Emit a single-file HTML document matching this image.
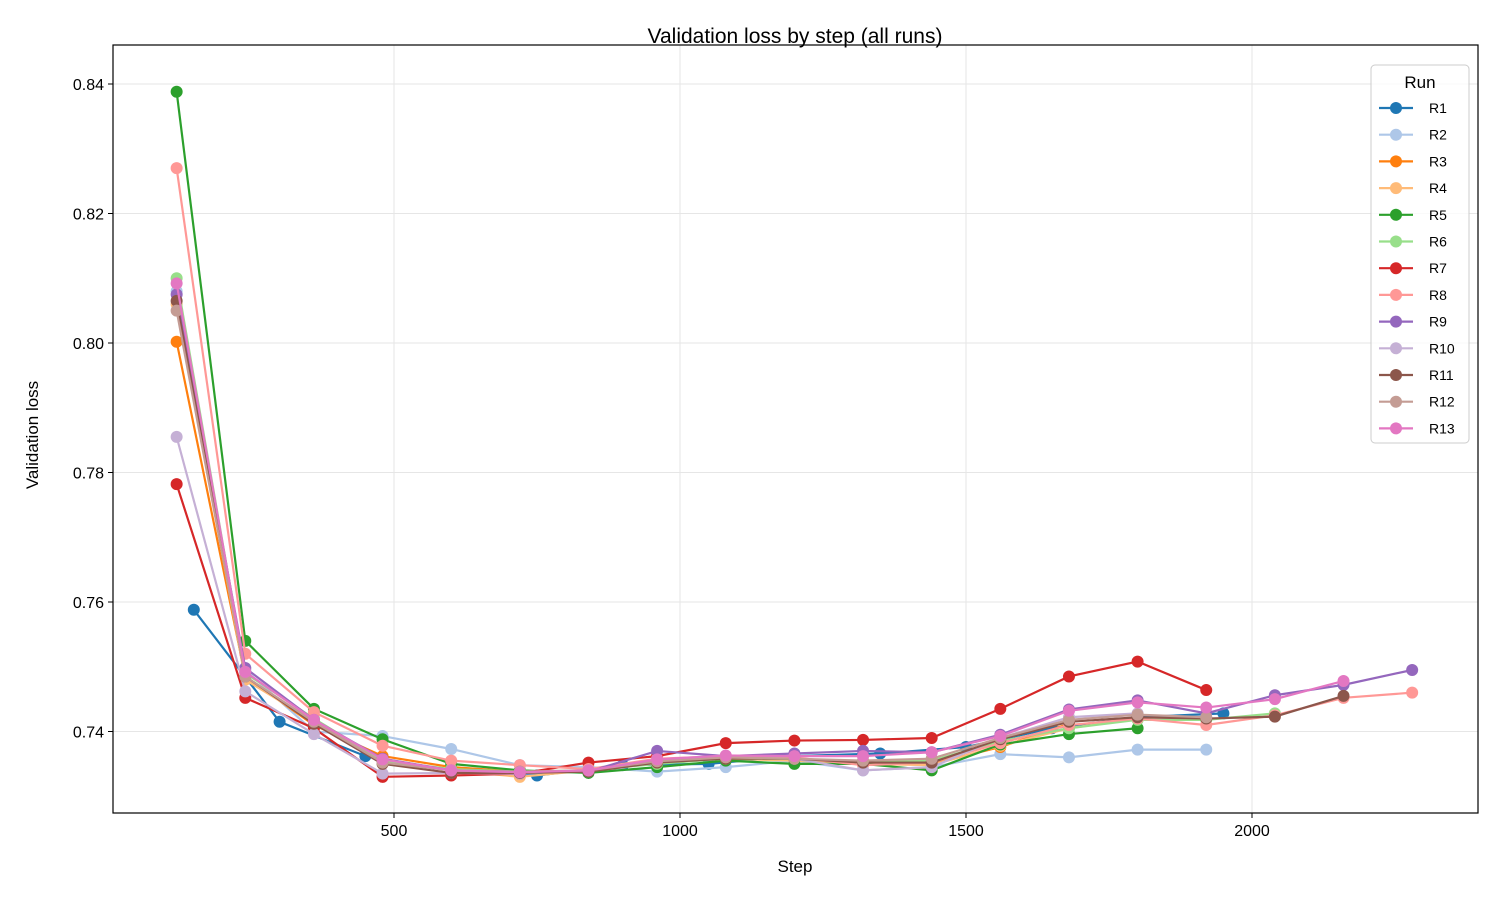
<!DOCTYPE html>
<html><head><meta charset="utf-8"><style>body{margin:0;background:#fff}svg{display:block;font-family:"Liberation Sans","DejaVu Sans",sans-serif}</style></head>
<body>
<svg id="chart" width="1500" height="900" viewBox="0 0 1500 900" xmlns="http://www.w3.org/2000/svg">
<rect width="1500" height="900" fill="#fff"/>
<text x="795" y="43" text-anchor="middle" font-size="21">Validation loss by step (all runs)</text>
<text x="795" y="872" text-anchor="middle" font-size="17">Step</text>
<text transform="translate(38,435) rotate(-90)" text-anchor="middle" font-size="17">Validation loss</text>
<g id="grid"></g><g id="series"></g><g id="axes"></g><g id="legend"></g>
</svg>
<script>
const runNames=["R1","R2","R3","R4","R5","R6","R7","R8","R9","R10","R11","R12","R13"];
const colors=["#1f77b4","#aec7e8","#ff7f0e","#ffbb78","#2ca02c","#98df8a","#d62728","#ff9896","#9467bd","#c5b0d5","#8c564b","#c49c94","#e377c2"];
const stepsR1=[150,300,450,600,750,900,1050,1200,1350,1500,1650,1800,1950];
const stepsStd=[120,240,360,480,600,720,840,960,1080,1200,1320,1440,1560,1680,1800,1920,2040,2160,2280];
const lossR1=[0.7588,0.7415,0.7362,0.7340,0.7332,0.7348,0.7350,0.7362,0.7366,0.7376,0.7405,0.7422,0.7428];
const lossR2=[0.8080,0.7495,0.7400,0.7393,0.7373,0.7348,0.7345,0.7338,0.7345,0.7355,0.7340,0.7345,0.7365,0.7360,0.7372,0.7372];
const lossR3=[0.8002,0.7485,0.7410,0.7362,0.7345,0.7338,0.7338,0.7352,0.7358,0.7358,0.7352,0.7350,0.7376,0.7412];
const lossR4=[0.8060,0.7480,0.7415,0.7355,0.7340,0.7330,0.7340,0.7352,0.7358,0.7355,0.7350,0.7348,0.7378,0.7405,0.7420];
const lossR5=[0.8388,0.7540,0.7435,0.7388,0.7350,0.7340,0.7336,0.7345,0.7355,0.7350,0.7350,0.7340,0.7380,0.7396,0.7405];
const lossR6=[0.8100,0.7490,0.7420,0.7355,0.7342,0.7338,0.7340,0.7350,0.7358,0.7358,0.7352,0.7355,0.7385,0.7405,0.7418,0.7418,0.7428];
const lossR7=[0.7782,0.7452,0.7405,0.7330,0.7332,0.7335,0.7352,0.7362,0.7382,0.7386,0.7387,0.7390,0.7435,0.7485,0.7508,0.7464];
const lossR8=[0.8270,0.7520,0.7430,0.7378,0.7355,0.7348,0.7342,0.7358,0.7362,0.7360,0.7348,0.7352,0.7382,0.7410,0.7420,0.7410,0.7425,0.7452,0.7460];
const lossR9=[0.8075,0.7498,0.7418,0.7358,0.7340,0.7338,0.7338,0.7370,0.7362,0.7366,0.7370,0.7368,0.7395,0.7434,0.7448,0.7428,0.7456,0.7472,0.7495];
const lossR10=[0.7855,0.7462,0.7396,0.7335,0.7336,0.7335,0.7340,0.7355,0.7360,0.7358,0.7340,0.7345,0.7390,0.7422,0.7428];
const lossR11=[0.8065,0.7485,0.7412,0.7350,0.7336,0.7336,0.7338,0.7352,0.7358,0.7358,0.7352,0.7352,0.7388,0.7415,0.7422,0.7420,0.7423,0.7455];
const lossR12=[0.8050,0.7485,0.7415,0.7352,0.7340,0.7338,0.7340,0.7354,0.7360,0.7358,0.7355,0.7358,0.7390,0.7418,0.7426,0.7422];
const lossR13=[0.8092,0.7492,0.7418,0.7357,0.7340,0.7337,0.7340,0.7357,0.7363,0.7362,0.7362,0.7368,0.7393,0.7432,0.7445,0.7437,0.7450,0.7478];
const xTicks=[500,1000,1500,2000];
const yTicks=[0.74,0.76,0.78,0.80,0.82,0.84];

const NS="http://www.w3.org/2000/svg";
const L=113,R=1478,T=45,B=813;
const x=s=>108+s*0.572;
const y=v=>84+(0.84-v)*6475;
function mk(tag,attrs,parent){const e=document.createElementNS(NS,tag);for(const k in attrs)e.setAttribute(k,attrs[k]);parent.appendChild(e);return e;}
const grid=document.getElementById('grid'),axes=document.getElementById('axes'),ser=document.getElementById('series'),leg=document.getElementById('legend');
xTicks.forEach(t=>{
 const g=mk('line',{x1:x(t),x2:x(t),y1:T,y2:B,stroke:'#e6e6e6','stroke-width':1},grid);
 
 
 mk('line',{x1:x(t),x2:x(t),y1:B,y2:B+5,stroke:'#000'},axes);
 const tx=mk('text',{x:x(t),y:B+23,'text-anchor':'middle','font-size':16},axes);tx.textContent=t;
 
 
});
yTicks.forEach(t=>{
 const g=mk('line',{x1:L,x2:R,y1:y(t),y2:y(t),stroke:'#e6e6e6','stroke-width':1},grid);
 
 
 mk('line',{x1:L-5,x2:L,y1:y(t),y2:y(t),stroke:'#000'},axes);
 const tx=mk('text',{x:L-9,y:y(t)+6,'text-anchor':'end','font-size':16},axes);tx.textContent=t.toFixed(2);
 
 
});
const frame=mk('rect',{x:L,y:T,width:R-L,height:B-T,fill:'none',stroke:'#000','stroke-width':1.2},axes);


const allLoss=[lossR1,lossR2,lossR3,lossR4,lossR5,lossR6,lossR7,lossR8,lossR9,lossR10,lossR11,lossR12,lossR13];
allLoss.forEach((vals,i)=>{
 const steps=i===0?stepsR1:stepsStd;
 const g=mk('g',{},ser);
 
 
 const pts=vals.map((v,j)=>x(steps[j])+','+y(v)).join(' ');
 const pl=mk('polyline',{points:pts,fill:'none',stroke:colors[i],'stroke-width':2.2},g);
 
 
 vals.forEach((v,j)=>{
  const c=mk('circle',{cx:x(steps[j]),cy:y(v),r:6,fill:colors[i]},g);
  
  
 });
});
const box=mk('rect',{x:1371,y:65,width:98,height:378,rx:4,fill:'#fff','fill-opacity':0.8,stroke:'#ccc'},leg);


const lt=mk('text',{x:1420,y:88,'text-anchor':'middle','font-size':17},leg);lt.textContent='Run';


runNames.forEach((n,i)=>{
 const yy=108+i*26.7;
 const g=mk('g',{},leg);
 
 
 mk('line',{x1:1379,x2:1413,y1:yy,y2:yy,stroke:colors[i],'stroke-width':2.2},g);
 mk('circle',{cx:1396,cy:yy,r:6,fill:colors[i]},g);
 const t=mk('text',{x:1429,y:yy+5,'font-size':14},g);t.textContent=n;
});
</script>
</body></html>
